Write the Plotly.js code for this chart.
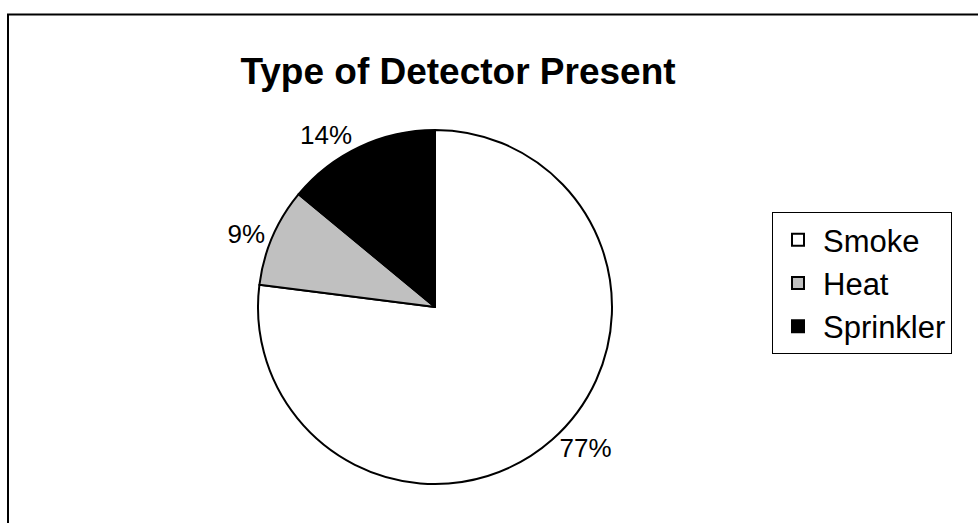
<!DOCTYPE html>
<html>
<head>
<meta charset="utf-8">
<script src="https://cdn.plot.ly/plotly-3.0.1.min.js"></script>
<style>html,body{margin:0;padding:0;background:#fff;}#chart{width:978px;height:523px;}</style>
</head>
<body>
<div id="chart"></div>
<script>
const categories = ["Smoke", "Heat", "Sprinkler"];
const shares = [77, 9, 14];
const sliceColors = ["#ffffff", "#c0c0c0", "#000000"];

const W = 978, H = 523;
const cx = 435, cy = 307, r = 177;

const trace = {
  type: "pie",
  labels: categories,
  values: shares,
  sort: false,
  direction: "clockwise",
  rotation: 0,
  marker: {colors: sliceColors, line: {color: "#000000", width: 2}},
  textinfo: "percent",
  texttemplate: "%{percent:.0%}",
  textposition: "outside",
  outsidetextfont: {family: "Liberation Sans, Arial, sans-serif", size: 26, color: "#000"},
  hoverinfo: "label+percent",
  domain: {x: [(cx - r) / W, (cx + r) / W], y: [(H - cy - r) / H, (H - cy + r) / H]},
  automargin: false
};

const layout = {
  width: W, height: H,
  margin: {l: 0, r: 0, t: 0, b: 0},
  paper_bgcolor: "#ffffff",
  font: {family: "Liberation Sans, Arial, sans-serif", color: "#000"},
  title: {
    text: "<b>Type of Detector Present</b>",
    font: {family: "Liberation Sans, Arial, sans-serif", size: 37, color: "#000"},
    x: 458 / W, xanchor: "center", xref: "paper",
    y: 1 - 71 / H, yanchor: "middle", yref: "paper"
  },
  showlegend: true,
  legend: {
    x: 772 / W, xanchor: "left",
    y: 1 - 283 / H, yanchor: "middle",
    bordercolor: "#000000", borderwidth: 1,
    bgcolor: "#ffffff",
    itemwidth: 40,
    font: {family: "Liberation Sans, Arial, sans-serif", size: 31, color: "#000"},
    traceorder: "normal"
  },
  shapes: [{
    type: "rect", xref: "paper", yref: "paper",
    x0: 8 / W, x1: 1.01, y0: -0.02, y1: 1 - 14.5 / H,
    line: {color: "#000000", width: 2}, fillcolor: "rgba(0,0,0,0)"
  }]
};

Plotly.newPlot("chart", [trace], layout, {displayModeBar: false, staticPlot: true});
</script>
</body>
</html>
